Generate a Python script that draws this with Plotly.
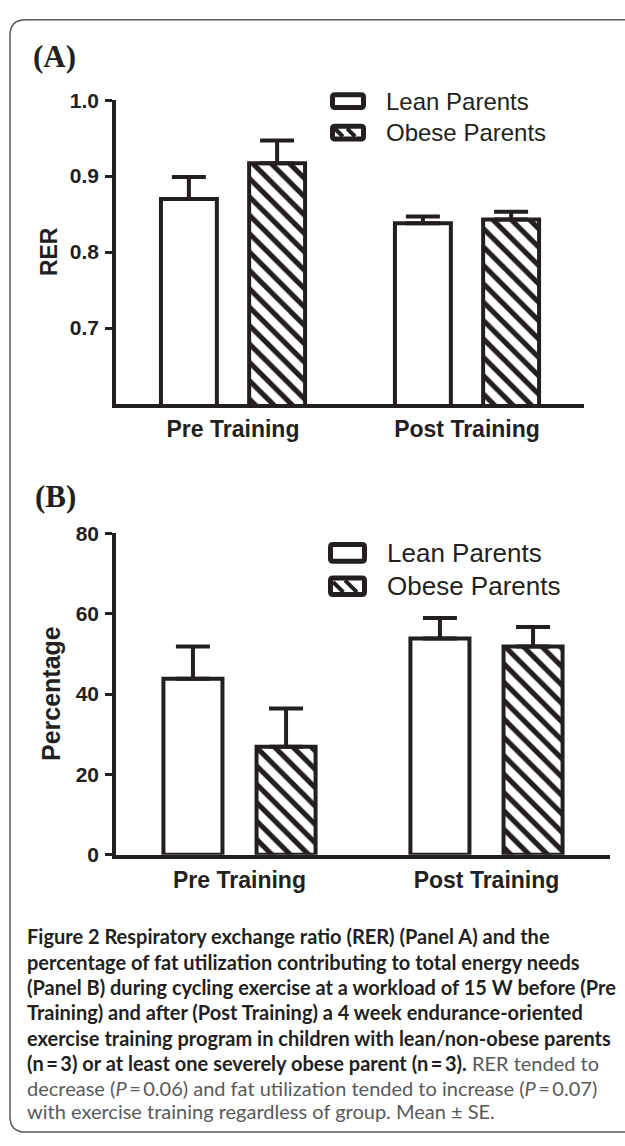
import plotly.graph_objects as go

# ---------------- data ----------------
categories = ["Pre Training", "Post Training"]
series_names = ["Lean Parents", "Obese Parents"]

rer_lean = [0.870, 0.838]
rer_lean_se = [0.029, 0.009]
rer_obese = [0.917, 0.843]
rer_obese_se = [0.030, 0.010]

fat_lean = [43.8, 53.8]
fat_lean_se = [8.0, 5.1]
fat_obese = [26.9, 51.8]
fat_obese_se = [9.5, 4.9]

rer_ticks = [0.7, 0.8, 0.9, 1.0]
rer_ticktext = ["0.7", "0.8", "0.9", "1.0"]
fat_ticks = [0, 20, 40, 60, 80]
fat_ticktext = ["0", "20", "40", "60", "80"]

caption_lines = [
    ("<b>Figure 2</b> Respiratory exchange ratio (RER) (Panel A) and the", "bold"),
    ("percentage of fat utilization contributing to total energy needs", "bold"),
    ("(Panel B) during cycling exercise at a workload of 15 W before (Pre", "bold"),
    ("Training) and after (Post Training) a 4 week endurance-oriented", "bold"),
    ("exercise training program in children with lean/non-obese parents", "bold"),
    ("(n\u2009=\u20093) or at least one severely obese parent (n\u2009=\u20093).", "mixed",
     " RER tended to"),
    ("decrease (<i>P</i>\u2009=\u20090.06) and fat utilization tended to increase (<i>P</i>\u2009=\u20090.07)", "light"),
    ("with exercise training regardless of group. Mean \u00b1 SE.", "light"),
]

# ---------------- helpers ----------------
W, H = 625, 1146
INK = "#231f20"
GREY = "#58595b"
SANS = "Liberation Sans, Arial, sans-serif"


def px(x):
    return x / W


def py(y):
    return 1 - y / H


def rrect(x0, y0, x1, y1, r):
    return (f"M {px(x0 + r)},{py(y0)} L {px(x1 - r)},{py(y0)} "
            f"Q {px(x1)},{py(y0)} {px(x1)},{py(y0 + r)} L {px(x1)},{py(y1 - r)} "
            f"Q {px(x1)},{py(y1)} {px(x1 - r)},{py(y1)} L {px(x0 + r)},{py(y1)} "
            f"Q {px(x0)},{py(y1)} {px(x0)},{py(y1 - r)} L {px(x0)},{py(y0 + r)} "
            f"Q {px(x0)},{py(y0)} {px(x0 + r)},{py(y0)} Z")


fig = go.Figure()

bar_line = dict(color=INK, width=4)
hatch = dict(shape="\\", fgcolor=INK, bgcolor="white", size=13, solidity=0.4, fillmode="replace")


def err(arr):
    return dict(type="data", array=arr, arrayminus=[0] * len(arr), symmetric=False,
                thickness=4, width=17, color=INK)


# Panel A
fig.add_trace(go.Bar(x=categories, y=rer_lean, name=series_names[0], xaxis="x", yaxis="y",
                     marker=dict(color="white", line=bar_line), error_y=err(rer_lean_se),
                     showlegend=False))
fig.add_trace(go.Bar(x=categories, y=rer_obese, name=series_names[1], xaxis="x", yaxis="y",
                     marker=dict(color="white", line=bar_line, pattern=hatch),
                     error_y=err(rer_obese_se), showlegend=False))
# Panel B
fig.add_trace(go.Bar(x=categories, y=fat_lean, name=series_names[0], xaxis="x2", yaxis="y2",
                     marker=dict(color="white", line=bar_line), error_y=err(fat_lean_se),
                     showlegend=False))
fig.add_trace(go.Bar(x=categories, y=fat_obese, name=series_names[1], xaxis="x2", yaxis="y2",
                     marker=dict(color="white", line=bar_line, pattern=hatch),
                     error_y=err(fat_obese_se), showlegend=False))

xcommon = dict(type="category", categoryorder="array", categoryarray=categories,
               range=[-0.5, 1.5], showline=True, linewidth=3.5, linecolor=INK,
               ticks="", showgrid=False, zeroline=False,
               tickfont=dict(family=SANS, size=23, color=INK, weight="bold"),
               ticklabelstandoff=2, fixedrange=True)
ycommon = dict(showline=True, linewidth=3.5, linecolor=INK, ticks="outside", ticklen=7,
               tickwidth=3, tickcolor=INK, showgrid=False, zeroline=False,
               tickfont=dict(family=SANS, size=21, color=INK, weight="bold"),
               ticklabelstandoff=2, fixedrange=True)

fig.update_layout(
    width=W, height=H, margin=dict(l=0, r=0, t=0, b=0),
    paper_bgcolor="white", plot_bgcolor="white",
    barmode="group", bargap=0.246, bargroupgap=0.366,
    xaxis=dict(xcommon, domain=[px(116), px(584)], anchor="y"),
    yaxis=dict(ycommon, domain=[py(400), py(90)], anchor="x", range=[0.6, 1.0],
               tickvals=rer_ticks, ticktext=rer_ticktext),
    xaxis2=dict(xcommon, domain=[px(116), px(610)], anchor="y2"),
    yaxis2=dict(ycommon, domain=[py(860), py(532)], anchor="x2", range=[0, 80],
                tickvals=fat_ticks, ticktext=fat_ticktext),
)

shapes = []
annotations = []

# outer frame (right side runs off the page)
r = 16
x0, y0, y1 = 10, 8, 1143
frame = (f"M {px(660)},{py(y0)} L {px(x0 + r)},{py(y0)} Q {px(x0)},{py(y0)} {px(x0)},{py(y0 + r)} "
         f"L {px(x0)},{py(y1 - r)} Q {px(x0)},{py(y1)} {px(x0 + r)},{py(y1)} L {px(660)},{py(y1)}")
shapes.append(dict(type="path", xref="paper", yref="paper", path=frame,
                   line=dict(color=GREY, width=1.5)))

# panel letters
annotations.append(dict(x=px(31), y=py(45), xref="paper", yref="paper", text="<b>(A)</b>",
                        showarrow=False, xanchor="left", yanchor="middle",
                        font=dict(family="Liberation Serif, Times New Roman, serif", size=31, color=INK)))
annotations.append(dict(x=px(33), y=py(494), xref="paper", yref="paper", text="<b>(B)</b>",
                        showarrow=False, xanchor="left", yanchor="middle",
                        font=dict(family="Liberation Serif, Times New Roman, serif", size=31, color=INK)))

# y axis titles
annotations.append(dict(x=px(49), y=py(245), xref="paper", yref="paper", text="<b>RER</b>",
                        showarrow=False, textangle=-90, xanchor="center", yanchor="middle",
                        font=dict(family=SANS, size=23, color=INK)))
annotations.append(dict(x=px(51), y=py(696), xref="paper", yref="paper", text="<b>Percentage</b>",
                        showarrow=False, textangle=-90, xanchor="center", yanchor="middle",
                        font=dict(family=SANS, size=25, color=INK)))


def legend(bx0, by0, bx1, by1, ty, label, size, hatched):
    lw = 5
    shapes.append(dict(type="path", xref="paper", yref="paper",
                       path=rrect(bx0 + lw / 2, by0 + lw / 2, bx1 - lw / 2, by1 - lw / 2, 2.5),
                       line=dict(color=INK, width=lw), fillcolor="white"))
    if hatched:
        ix0, iy0, ix1, iy1 = bx0 + lw, by0 + lw, bx1 - lw, by1 - lw
        h = iy1 - iy0
        wdt = ix1 - ix0
        for c in (ix0 + 0.15 * wdt, ix0 + 0.62 * wdt):
            xa, ya = c - h / 2, iy0
            xb, yb = c + h / 2, iy1
            if xa < ix0:
                ya = iy0 + (ix0 - xa)
                xa = ix0
            if xb > ix1:
                yb = iy1 - (xb - ix1)
                xb = ix1
            shapes.append(dict(type="line", xref="paper", yref="paper",
                               x0=px(xa), y0=py(ya), x1=px(xb), y1=py(yb),
                               line=dict(color=INK, width=4)))
    annotations.append(dict(x=px(bx1 + 18), y=py(ty), xref="paper", yref="paper", text=label,
                            showarrow=False, xanchor="left", yanchor="middle",
                            font=dict(family=SANS, size=size, color=INK)))


legend(330, 82, 366, 100, 91, series_names[0], 24, False)
legend(330, 114, 366, 132, 123, series_names[1], 24, True)
legend(328, 541, 367, 563, 552, series_names[0], 26, False)
legend(328, 575, 367, 597, 586, series_names[1], 26, True)

# caption
CAP = "Lato, Open Sans, sans-serif"
line_y = [943, 969, 995, 1020, 1047, 1073, 1098, 1122]
for (entry, yy) in zip(caption_lines, line_y):
    kind = entry[1]
    if kind == "bold":
        txt = entry[0]
        font = dict(family=CAP, size=20, color=INK, weight=700)
    elif kind == "mixed":
        txt = entry[0] + f'<span style="font-weight:400;fill:{GREY}">{entry[2]}</span>'
        font = dict(family=CAP, size=20, color=INK, weight=700)
    else:
        txt = entry[0]
        font = dict(family=CAP, size=20, color=GREY, weight=400)
    annotations.append(dict(x=px(25), y=py(yy), xref="paper", yref="paper", text=txt,
                            showarrow=False, xanchor="left", yanchor="middle", font=font))

fig.update_layout(shapes=shapes, annotations=annotations)
fig.write_html("out.html", config={"displayModeBar": False},
               post_script="document.body.style.margin='0';document.body.style.overflow='hidden';")
